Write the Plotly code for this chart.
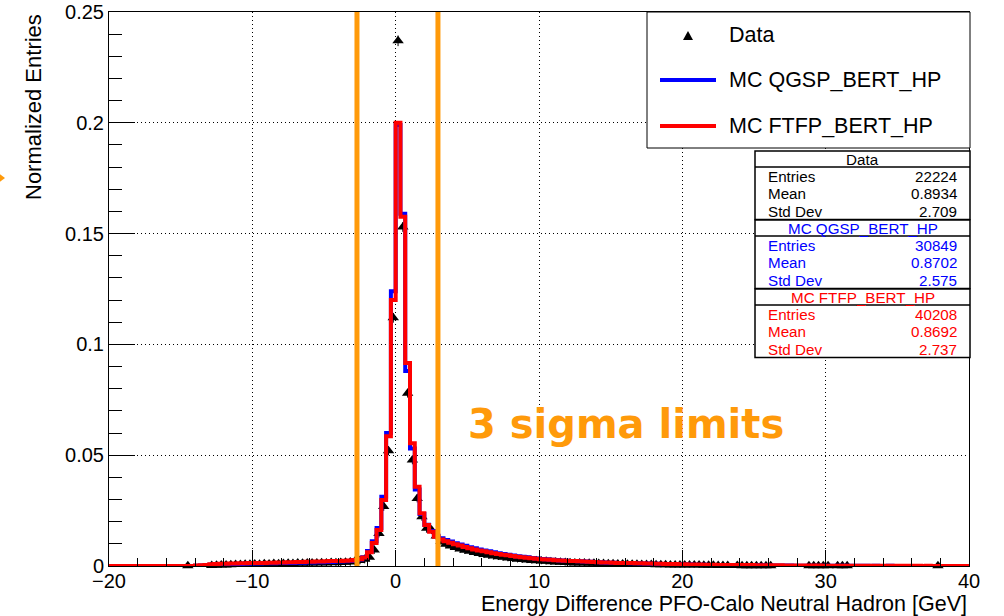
import numpy as np
import plotly.graph_objects as go

# ---------------- binning: 180 bins of 1/3 GeV from -20 to 40 GeV ----------------
X_MIN, X_MAX, N_BINS = -20.0, 40.0, 180
N = None  # empty data bin (no marker drawn)

# Normalized entries per bin, six bins (2 GeV) per row, starting at -20 GeV
data_vals = [
    N, N, N, N, N, N,
    N, N, N, N, N, N,
    N, N, N, N, 0.0001, N,
    N, N, N, 0.0002, 0.0003, 0.0005,
    0.0005, 0.0006, 0.0007, 0.0007, 0.0008, 0.0008,
    0.0009, 0.0008, 0.0010, 0.0009, 0.0011, 0.0010,
    0.0011, 0.0012, 0.0011, 0.0013, 0.0012, 0.0013,
    0.0014, 0.0013, 0.0015, 0.0014, 0.0016, 0.0015,
    0.0016, 0.0017, 0.0018, 0.0022, 0.0025, 0.0030,
    0.0040, 0.0072, 0.0147, 0.0268, 0.0520, 0.1120,
    0.2370, 0.1530, 0.0780, 0.0478, 0.0305, 0.0222,
    0.0170, 0.0162, 0.0135, 0.0110, 0.0098, 0.0090,
    0.0083, 0.0077, 0.0071, 0.0066, 0.0061, 0.0056,
    0.0052, 0.0048, 0.0045, 0.0042, 0.0039, 0.0036,
    0.0034, 0.0031, 0.0029, 0.0027, 0.0025, 0.0024,
    0.0022, 0.0021, 0.0019, 0.0018, 0.0017, 0.0016,
    0.0015, 0.0014, 0.0014, 0.0013, 0.0012, 0.0012,
    0.0011, 0.0011, 0.0010, 0.0010, 0.0009, 0.0009,
    0.0008, 0.0008, 0.0008, 0.0007, 0.0007, 0.0007,
    0.0006, 0.0006, 0.0006, 0.0005, 0.0005, 0.0005,
    0.0005, 0.0004, 0.0004, 0.0004, 0.0003, 0.0003,
    0.0003, 0.0002, 0.0002, 0.0002, N, 0.0002,
    0.0001, 0.0001, 0.0001, 0.0001, 0.0001, 0.0001,
    0.0001, N, N, N, N, N,
    N, N, 0.0001, 0.0001, 0.0001, 0.0001,
    0.0001, N, 0.0001, 0.0001, 0.0001, N,
    N, N, N, N, N, N,
    N, N, N, N, N, N,
    N, N, N, N, N, 0.0001,
    N, N, N, N, N, N,
]

data_errs = [
    N, N, N, N, N, N,
    N, N, N, N, N, N,
    N, N, N, N, 0.0010, N,
    N, N, N, 0.0012, 0.0012, 0.0013,
    0.0013, 0.0013, 0.0014, 0.0014, 0.0014, 0.0014,
    0.0015, 0.0014, 0.0015, 0.0015, 0.0015, 0.0015,
    0.0015, 0.0016, 0.0015, 0.0016, 0.0016, 0.0016,
    0.0016, 0.0016, 0.0017, 0.0016, 0.0017, 0.0017,
    0.0017, 0.0017, 0.0017, 0.0018, 0.0018, 0.0018,
    0.0018, 0.0018, 0.0018, 0.0019, 0.0020, 0.0022,
    0.0024, 0.0022, 0.0020, 0.0019, 0.0018, 0.0018,
    0.0018, 0.0018, 0.0018, 0.0017, 0.0017, 0.0017,
    0.0017, 0.0017, 0.0017, 0.0016, 0.0016, 0.0016,
    0.0016, 0.0016, 0.0016, 0.0015, 0.0015, 0.0015,
    0.0015, 0.0015, 0.0015, 0.0014, 0.0014, 0.0014,
    0.0014, 0.0014, 0.0014, 0.0013, 0.0013, 0.0013,
    0.0013, 0.0013, 0.0013, 0.0013, 0.0012, 0.0012,
    0.0012, 0.0012, 0.0012, 0.0012, 0.0012, 0.0012,
    0.0011, 0.0011, 0.0011, 0.0011, 0.0011, 0.0011,
    0.0011, 0.0011, 0.0011, 0.0011, 0.0011, 0.0011,
    0.0011, 0.0010, 0.0010, 0.0010, 0.0010, 0.0010,
    0.0010, 0.0010, 0.0010, 0.0010, N, 0.0010,
    0.0010, 0.0010, 0.0010, 0.0010, 0.0010, 0.0010,
    0.0010, N, N, N, N, N,
    N, N, 0.0010, 0.0010, 0.0010, 0.0010,
    0.0010, N, 0.0010, 0.0010, 0.0010, N,
    N, N, N, N, N, N,
    N, N, N, N, N, N,
    N, N, N, N, N, 0.0010,
    N, N, N, N, N, N,
]

qgsp_vals = [
    0, 0, 0, 0, 0, 0,
    0, 0, 0, 0, 0, 0,
    0, 0, 0, 0, 0, 0,
    0.0001, 0.0002, 0.0003, 0.0006, 0.0007, 0.0007,
    0.0008, 0.0008, 0.0009, 0.0009, 0.0010, 0.0010,
    0.0011, 0.0011, 0.0012, 0.0012, 0.0012, 0.0013,
    0.0013, 0.0014, 0.0014, 0.0015, 0.0015, 0.0016,
    0.0016, 0.0017, 0.0017, 0.0018, 0.0018, 0.0019,
    0.0020, 0.0021, 0.0022, 0.0025, 0.0029, 0.0040,
    0.0068, 0.0112, 0.0172, 0.0312, 0.0600, 0.1240,
    0.1990, 0.1590, 0.0880, 0.0530, 0.0345, 0.0235,
    0.0186, 0.0158, 0.0136, 0.0125, 0.0117, 0.0110,
    0.0103, 0.0097, 0.0091, 0.0085, 0.0080, 0.0075,
    0.0070, 0.0066, 0.0062, 0.0058, 0.0054, 0.0051,
    0.0047, 0.0044, 0.0042, 0.0039, 0.0036, 0.0034,
    0.0032, 0.0030, 0.0028, 0.0027, 0.0025, 0.0024,
    0.0023, 0.0022, 0.0021, 0.0020, 0.0019, 0.0018,
    0.0017, 0.0016, 0.0015, 0.0015, 0.0014, 0.0013,
    0.0013, 0.0012, 0.0012, 0.0011, 0.0011, 0.0010,
    0.0010, 0.0009, 0.0009, 0.0008, 0.0008, 0.0008,
    0.0007, 0.0007, 0.0006, 0.0006, 0.0006, 0.0005,
    0.0005, 0.0005, 0.0004, 0.0004, 0.0004, 0.0004,
    0.0003, 0.0003, 0.0003, 0.0003, 0.0003, 0.0002,
    0.0002, 0.0002, 0.0002, 0.0002, 0.0002, 0.0001,
    0.0001, 0.0001, 0.0001, 0.0001, 0.0001, 0.0001,
    0.0001, 0.0001, 0.0001, 0.0001, 0.0001, 0.0001,
    0.0001, 0.0001, 0.0001, 0, 0.0001, 0,
    0, 0.0001, 0, 0, 0, 0,
    0, 0, 0, 0, 0, 0,
    0, 0, 0, 0, 0, 0,
]

ftfp_vals = [
    0, 0, 0, 0, 0, 0,
    0, 0, 0, 0, 0, 0,
    0, 0, 0, 0, 0, 0,
    0.0002, 0.0003, 0.0004, 0.0008, 0.0009, 0.0010,
    0.0010, 0.0011, 0.0011, 0.0012, 0.0012, 0.0013,
    0.0013, 0.0014, 0.0014, 0.0015, 0.0015, 0.0016,
    0.0016, 0.0017, 0.0017, 0.0018, 0.0018, 0.0019,
    0.0019, 0.0020, 0.0020, 0.0021, 0.0022, 0.0022,
    0.0023, 0.0024, 0.0025, 0.0027, 0.0030, 0.0038,
    0.0062, 0.0104, 0.0162, 0.0298, 0.0585, 0.1200,
    0.2000, 0.1576, 0.0916, 0.0554, 0.0358, 0.0238,
    0.0185, 0.0155, 0.0132, 0.0120, 0.0112, 0.0105,
    0.0098, 0.0092, 0.0086, 0.0080, 0.0075, 0.0070,
    0.0066, 0.0062, 0.0058, 0.0054, 0.0051, 0.0048,
    0.0045, 0.0042, 0.0040, 0.0037, 0.0035, 0.0033,
    0.0031, 0.0029, 0.0028, 0.0026, 0.0025, 0.0024,
    0.0023, 0.0022, 0.0021, 0.0020, 0.0019, 0.0018,
    0.0017, 0.0016, 0.0016, 0.0015, 0.0014, 0.0014,
    0.0013, 0.0013, 0.0012, 0.0012, 0.0011, 0.0011,
    0.0010, 0.0010, 0.0009, 0.0009, 0.0009, 0.0008,
    0.0008, 0.0007, 0.0007, 0.0007, 0.0006, 0.0006,
    0.0006, 0.0005, 0.0005, 0.0005, 0.0005, 0.0004,
    0.0004, 0.0004, 0.0004, 0.0003, 0.0003, 0.0003,
    0.0003, 0.0003, 0.0003, 0.0002, 0.0002, 0.0002,
    0.0002, 0.0002, 0.0002, 0.0002, 0.0002, 0.0001,
    0.0001, 0.0001, 0.0001, 0.0001, 0.0001, 0.0001,
    0.0001, 0.0001, 0.0001, 0.0001, 0.0001, 0.0001,
    0.0001, 0.0001, 0.0001, 0.0001, 0.0001, 0.0001,
    0.0001, 0.0001, 0, 0.0001, 0, 0,
    0, 0, 0, 0, 0, 0,
]

# 3-sigma selection window [GeV]
sigma_limits = [-2.70, 2.95]

series_names = ["Data", "MC QGSP_BERT_HP", "MC FTFP_BERT_HP"]
stats = [
    ("Data", "22224", "0.8934", "2.709"),
    ("MC QGSP_BERT_HP", "30849", "0.8702", "2.575"),
    ("MC FTFP_BERT_HP", "40208", "0.8692", "2.737"),
]

# ---------------- styling ----------------
FONT = "Liberation Sans, Arial, Helvetica, sans-serif"
FONT_WIDE = "DejaVu Sans, Liberation Sans, sans-serif"
BLUE = "#0000ff"
RED = "#ff0000"
ORANGE = "#ff9a0a"
STAT_COLORS = ["#000000", BLUE, RED]

# canvas geometry (pixels)
W, H = 1004, 616
L, R, T, B = 109, 969, 12, 566


def px(x):
    return (x - L) / (R - L)


def py(y):
    return (B - y) / (B - T)


edges = np.linspace(X_MIN, X_MAX, N_BINS + 1)
centers = 0.5 * (edges[:-1] + edges[1:])


def step_trace(vals, color, name):
    ys = list(vals) + [vals[-1]]
    return go.Scatter(
        x=edges, y=ys, mode="lines", line=dict(color=color, width=4, shape="hv"),
        name=name, hoverinfo="skip",
    )


fig = go.Figure()

fig.add_trace(go.Scatter(
    x=centers, y=data_vals, mode="markers", name=series_names[0],
    marker=dict(symbol="triangle-up", size=10, color="black"),
    error_y=dict(type="data", array=data_errs, visible=True, color="black",
                 thickness=1, width=0),
    cliponaxis=False,
))
fig.add_trace(step_trace(qgsp_vals, BLUE, series_names[1]))
fig.add_trace(step_trace(ftfp_vals, RED, series_names[2]))

shapes = []
annotations = []

# 3-sigma limit lines
for lim in sigma_limits:
    shapes.append(dict(type="line", xref="x", yref="paper", x0=lim, x1=lim, y0=0, y1=1,
                       line=dict(color=ORANGE, width=5), layer="above"))

# orange arrowhead at the left edge
shapes.append(dict(type="path", xref="paper", yref="paper",
                   path=f"M {px(-3)},{py(172)} L {px(5)},{py(178)} L {px(-3)},{py(184)} Z",
                   fillcolor=ORANGE, line=dict(width=0), layer="above"))

# legend box
shapes.append(dict(type="rect", xref="paper", yref="paper",
                   x0=px(647), x1=px(970), y0=py(148), y1=py(12),
                   fillcolor="white", line=dict(color="black", width=1), layer="above"))
# legend symbols: data triangle, MC lines
shapes.append(dict(type="path", xref="paper", yref="paper",
                   path=f"M {px(683)},{py(40)} L {px(693)},{py(40)} L {px(688)},{py(31)} Z",
                   fillcolor="black", line=dict(width=0), layer="above"))
for yy, col in [(80, BLUE), (126, RED)]:
    shapes.append(dict(type="line", xref="paper", yref="paper",
                       x0=px(660), x1=px(716), y0=py(yy), y1=py(yy),
                       line=dict(color=col, width=4), layer="above"))
for name, yy in zip(series_names, [35, 80, 126]):
    annotations.append(dict(xref="paper", yref="paper", x=px(727), y=py(yy),
                            xanchor="left", yanchor="middle", text=name, showarrow=False,
                            font=dict(family=FONT, size=21.5, color="black")))

# statistics boxes
box_tops = [151, 220, 289]
box_h = 68.5
for k, (title, ent, mean, sd) in enumerate(stats):
    top = box_tops[k]
    bot = top + box_h
    col = STAT_COLORS[k]
    shapes.append(dict(type="rect", xref="paper", yref="paper",
                       x0=px(755), x1=px(970), y0=py(bot), y1=py(top),
                       fillcolor="white", line=dict(color="black", width=1.5), layer="above"))
    shapes.append(dict(type="line", xref="paper", yref="paper",
                       x0=px(755), x1=px(970), y0=py(top + 16), y1=py(top + 16),
                       line=dict(color="black", width=1.5), layer="above"))
    annotations.append(dict(xref="paper", yref="paper", x=px(862.5), y=py(top + 8.5),
                            xanchor="center", yanchor="middle", text=title, showarrow=False,
                            font=dict(family=FONT, size=15.2, color=col)))
    for j, (lab, val) in enumerate([("Entries", ent), ("Mean", mean), ("Std Dev", sd)]):
        yy = top + 25.5 + 17.3 * j
        annotations.append(dict(xref="paper", yref="paper", x=px(766), y=py(yy),
                                xanchor="left", yanchor="middle", text=lab, showarrow=False,
                                font=dict(family=FONT, size=15.2, color=col)))
        annotations.append(dict(xref="paper", yref="paper", x=px(959), y=py(yy),
                                xanchor="right", yanchor="middle", text=val, showarrow=False,
                                font=dict(family=FONT, size=15.2, color=col)))

# "3 sigma limits" label
annotations.append(dict(xref="paper", yref="paper", x=px(466), y=py(424),
                        xanchor="left", yanchor="middle", text="<b>3 sigma limits</b>",
                        showarrow=False, font=dict(family=FONT_WIDE, size=40, color=ORANGE)))

# axis titles
annotations.append(dict(xref="paper", yref="paper", x=1.0, y=py(604),
                        xanchor="right", yanchor="middle",
                        text="Energy Difference PFO-Calo Neutral Hadron [GeV]",
                        showarrow=False, font=dict(family=FONT, size=21.5, color="black")))
annotations.append(dict(xref="paper", yref="paper", x=px(33), y=1.0,
                        xanchor="center", yanchor="top", textangle=-90,
                        text="Normalized Entries", showarrow=False,
                        font=dict(family=FONT, size=22, color="black")))

axis_common = dict(
    showline=True, linecolor="black", linewidth=1, mirror=True,
    ticks="inside", tickcolor="black", tickwidth=1,
    showgrid=True, gridcolor="black", gridwidth=1, griddash="1px,3px",
    zeroline=False, automargin=False,
    tickfont=dict(family=FONT, size=20, color="black"),
)

fig.update_layout(
    width=W, height=H,
    margin=dict(l=L, r=W - R, t=T, b=H - B, autoexpand=False),
    paper_bgcolor="white", plot_bgcolor="white",
    showlegend=False,
    font=dict(family=FONT, size=20, color="black"),
    xaxis=dict(range=[X_MIN, X_MAX], dtick=10, tick0=0, ticklen=16, ticklabelstandoff=-3,
               minor=dict(dtick=2, tick0=0, ticklen=8, ticks="inside", tickcolor="black",
                          showgrid=False),
               **axis_common),
    yaxis=dict(range=[0, 0.25], dtick=0.05, tick0=0, ticklen=26,
               minor=dict(dtick=0.01, tick0=0, ticklen=13, ticks="inside", tickcolor="black",
                          showgrid=False),
               **axis_common),
    shapes=shapes,
    annotations=annotations,
)

fig.write_html("out.html")
